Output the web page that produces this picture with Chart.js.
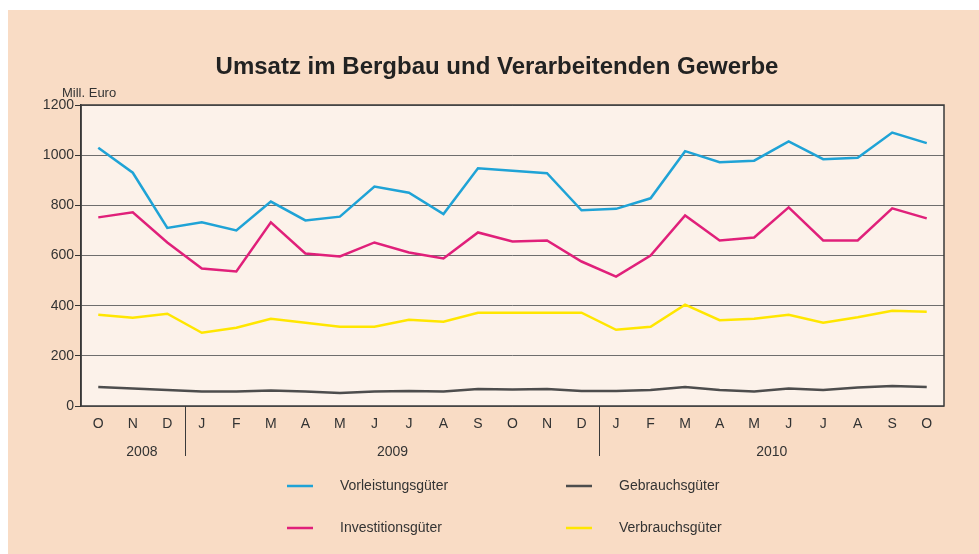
<!DOCTYPE html>
<html>
<head>
<meta charset="utf-8">
<script src="https://cdn.jsdelivr.net/npm/chart.js@4.4.0/dist/chart.umd.min.js"></script>
<style>
  html, body { margin: 0; padding: 0; background: #fff; }
  #wrap { position: relative; width: 979px; height: 554px; }
  #chart { position: absolute; left: 0; top: 0; }
</style>
</head>
<body>
<div id="wrap"><canvas id="chart" width="979" height="554"></canvas></div>
<script>
const months = ['O','N','D','J','F','M','A','M','J','J','A','S','O','N','D','J','F','M','A','M','J','J','A','S','O'];
const years = [
  { label: '2008', from: 0, to: 2 },
  { label: '2009', from: 3, to: 14 },
  { label: '2010', from: 15, to: 24 }
];
const yTicks = [0, 200, 400, 600, 800, 1000, 1200];

const vorleistung = [1030, 930, 710, 732, 700, 815, 740, 755, 875, 850, 765, 948, 938, 928, 780, 786, 828, 1016, 972, 978, 1055, 984, 990, 1090, 1048];
const investition = [752, 772, 652, 548, 536, 732, 608, 596, 652, 612, 588, 692, 656, 660, 576, 516, 600, 760, 660, 672, 792, 660, 660, 788, 748];
const gebrauch = [76, 70, 64, 58, 58, 62, 58, 52, 58, 60, 58, 68, 66, 68, 60, 60, 64, 76, 64, 58, 70, 64, 74, 80, 76];
const verbrauch = [364, 352, 368, 292, 312, 348, 332, 316, 316, 344, 336, 372, 372, 372, 372, 304, 316, 404, 342, 348, 364, 332, 354, 380, 376];

const seriesNames = ['Vorleistungsgüter', 'Gebrauchsgüter', 'Investitionsgüter', 'Verbrauchsgüter'];
const seriesColors = ['#1fa3d6', '#4d4d4d', '#e0207a', '#ffe600'];

const textColor = '#333';
const font = 'Liberation Sans, Arial, sans-serif';

// background, plot fill, title, year labels, legend
const decor = {
  id: 'decor',
  beforeDraw(chart) {
    const { ctx, chartArea: a } = chart;
    ctx.save();
    ctx.fillStyle = '#ffffff';
    ctx.fillRect(0, 0, chart.width, chart.height);
    ctx.fillStyle = '#f9dcc5';
    ctx.fillRect(8, 10, chart.width - 8, chart.height - 10);
    ctx.fillStyle = '#fcf2ea';
    ctx.fillRect(a.left, a.top, a.right - a.left, a.bottom - a.top);
    ctx.restore();
  },
  afterDraw(chart) {
    const { ctx, chartArea: a, scales } = chart;
    const x = scales.x;
    ctx.save();
    ctx.fillStyle = '#222';
    ctx.textAlign = 'center';
    ctx.textBaseline = 'middle';
    ctx.font = 'bold 24px ' + font;
    ctx.fillText('Umsatz im Bergbau und Verarbeitenden Gewerbe', 497, 67);

    ctx.fillStyle = textColor;
    ctx.font = '13px ' + font;
    ctx.textAlign = 'left';
    ctx.fillText('Mill. Euro', 62, 93);

    // frame
    ctx.strokeStyle = '#3a3a3a';
    ctx.lineWidth = 1.5;
    ctx.strokeRect(a.left, a.top, a.right - a.left, a.bottom - a.top);

    // separators between years
    ctx.lineWidth = 1;
    const seps = years.slice(1).map(y =>
      Math.round((x.getPixelForValue(y.from - 1) + x.getPixelForValue(y.from)) / 2) + 0.5);
    seps.forEach(sx => {
      ctx.beginPath();
      ctx.moveTo(sx, a.bottom);
      ctx.lineTo(sx, 456);
      ctx.stroke();
    });

    // year labels centred between bounds
    const bounds = [x.getPixelForValue(0), ...seps, a.right];
    ctx.font = '14px ' + font;
    ctx.textAlign = 'center';
    years.forEach((y, i) => {
      ctx.fillText(y.label, (bounds[i] + bounds[i + 1]) / 2, 452);
    });

    // legend in two columns
    const cols = [287, 566];
    const rows = [486, 528];
    seriesNames.forEach((name, i) => {
      const lx = cols[i % 2];
      const ly = rows[Math.floor(i / 2)];
      ctx.strokeStyle = seriesColors[i];
      ctx.lineWidth = 2.5;
      ctx.beginPath();
      ctx.moveTo(lx, ly);
      ctx.lineTo(lx + 26, ly);
      ctx.stroke();
      ctx.fillStyle = textColor;
      ctx.textAlign = 'left';
      ctx.fillText(name, lx + 53, ly);
    });
    ctx.restore();
  }
};

const datasets = [
  { label: seriesNames[1], data: gebrauch, borderColor: seriesColors[1] },
  { label: seriesNames[3], data: verbrauch, borderColor: seriesColors[3] },
  { label: seriesNames[2], data: investition, borderColor: seriesColors[2] },
  { label: seriesNames[0], data: vorleistung, borderColor: seriesColors[0] }
].map(d => Object.assign(d, { borderWidth: 2.5, pointRadius: 0, tension: 0, fill: false }));

new Chart(document.getElementById('chart'), {
  type: 'line',
  data: { labels: months, datasets },
  plugins: [decor],
  options: {
    responsive: false,
    animation: false,
    layout: { padding: { top: 105, right: 35, bottom: 0, left: 0 } },
    plugins: { legend: { display: false }, tooltip: { enabled: false }, title: { display: false } },
    scales: {
      x: {
        offset: true,
        afterFit(s) { s.height = 148; },
        grid: { display: false, drawTicks: false },
        border: { display: false },
        ticks: { color: textColor, font: { size: 14, family: font }, padding: 10, maxRotation: 0, autoSkip: false }
      },
      y: {
        min: 0,
        max: 1200,
        afterFit(s) { s.width = 81; },
        afterBuildTicks(s) { s.ticks = yTicks.map(v => ({ value: v })); },
        grid: { color: '#6e6e6e', lineWidth: 1, tickLength: 6, tickColor: '#333' },
        border: { display: true, color: '#333', width: 1.5 },
        ticks: { color: textColor, font: { size: 14, family: font }, padding: 1, callback: v => String(v) }
      }
    }
  }
});
</script>
</body>
</html>
